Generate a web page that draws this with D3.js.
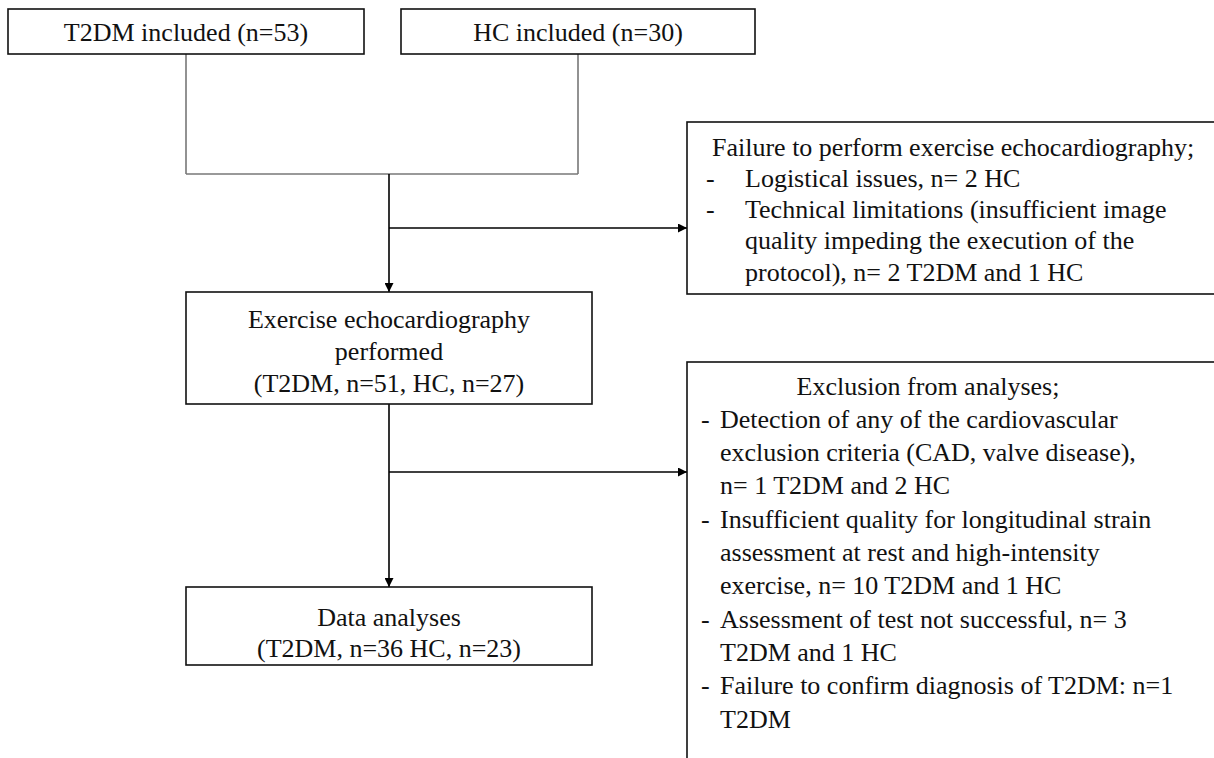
<!DOCTYPE html>
<html>
<head>
<meta charset="utf-8">
<script src="https://cdn.jsdelivr.net/npm/d3@7"></script>
<style>
  html, body { margin: 0; padding: 0; background: #fff; }
  svg { display: block; }
</style>
</head>
<body>
<svg id="chart" width="1214" height="758"></svg>
<script>
// flow counts
var topLabels = ["T2DM included (n=53)", "HC included (n=30)"];
var stageLabels = [
  ["Exercise echocardiography", "performed", "(T2DM, n=51, HC, n=27)"],
  ["Data analyses", "(T2DM, n=36 HC, n=23)"]
];
var excl1Title = "Failure to perform exercise echocardiography;";
var excl1Items = [
  ["Logistical issues, n= 2 HC"],
  ["Technical limitations (insufficient image", "quality impeding the execution of the", "protocol), n= 2 T2DM and 1 HC"]
];
var excl2Title = "Exclusion from analyses;";
var excl2Items = [
  ["Detection of any of the cardiovascular", "exclusion criteria (CAD, valve disease),", "n= 1 T2DM and 2 HC"],
  ["Insufficient quality for longitudinal strain", "assessment at rest and high-intensity", "exercise, n= 10 T2DM and 1 HC"],
  ["Assessment of test not successful, n= 3", "T2DM and 1 HC"],
  ["Failure to confirm diagnosis of T2DM: n=1", "T2DM"]
];

// page layout (pixels)
var fontSize = 26;
var spineX = 389;
var topBox = [{x: 8, w: 356}, {x: 401, w: 354}], topY = 9, topH = 45, joinY = 174;
var stageBox = [{y: 292, h: 112, pad: 27, lh: 32}, {y: 587, h: 78, pad: 30, lh: 31}], stageX = 186, stageW = 406;
var sideX = 687, sideW = 560;
var side1 = {y: 122, h: 172, arrowY: 228, first: 147, lh: 31.3, dashX: 706, textX: 745, titleX: 712};
var side2 = {y: 362, h: 500, arrowY: 472, first: 386, lh: 33.3, dashX: 701, textX: 720, centreX: 928};

var svg = d3.select("#chart");

svg.append("defs").append("marker")
    .attr("id", "head")
    .attr("viewBox", "0 0 10 10")
    .attr("refX", 10).attr("refY", 5)
    .attr("markerWidth", 11).attr("markerHeight", 9)
    .attr("markerUnits", "userSpaceOnUse")
    .attr("orient", "auto")
  .append("path")
    .attr("d", "M0,0L10,5L0,10Z")
    .attr("fill", "#000");

function box(x, y, w, h) {
  svg.append("rect")
      .attr("x", x).attr("y", y)
      .attr("width", w).attr("height", h)
      .attr("fill", "#fff")
      .attr("stroke", "#111")
      .attr("stroke-width", 1.6);
}

function line(pts, color, arrow) {
  var l = svg.append("path")
      .attr("d", d3.line()(pts))
      .attr("fill", "none")
      .attr("stroke", color)
      .attr("stroke-width", 1.6);
  if (arrow) l.attr("marker-end", "url(#head)");
}

function label(g, x, y, t, anchor) {
  return g.append("text")
      .attr("x", x).attr("y", y)
      .attr("text-anchor", anchor || "start")
      .attr("dominant-baseline", "central")
      .attr("font-family", "Liberation Serif")
      .attr("font-size", fontSize)
      .attr("fill", "#111")
      .text(t);
}

// connectors first, boxes on top
topBox.forEach(function(b) {
  line([[b.x + b.w / 2, topY + topH], [b.x + b.w / 2, joinY]], "#777");
});
line([[topBox[0].x + topBox[0].w / 2, joinY], [topBox[1].x + topBox[1].w / 2, joinY]], "#777");
line([[spineX, joinY], [spineX, stageBox[0].y]], "#000", true);
line([[spineX, stageBox[0].y + stageBox[0].h], [spineX, stageBox[1].y]], "#000", true);
line([[spineX, side1.arrowY], [sideX, side1.arrowY]], "#000", true);
line([[spineX, side2.arrowY], [sideX, side2.arrowY]], "#000", true);

// top boxes
topLabels.forEach(function(t, i) {
  var b = topBox[i];
  box(b.x, topY, b.w, topH);
  label(svg, b.x + b.w / 2, topY + topH / 2 + 1, t, "middle");
});

// main stages
stageLabels.forEach(function(lines, i) {
  var b = stageBox[i];
  box(stageX, b.y, stageW, b.h);
  var g = svg.append("g");
  lines.forEach(function(t, j) {
    label(g, stageX + stageW / 2, b.y + b.pad + j * b.lh, t, "middle");
  });
});

// side boxes with dash lists
function sideBox(s, title, items) {
  box(sideX, s.y, sideW, s.h);
  var g = svg.append("g");
  if (s.centreX) label(g, s.centreX, s.first, title, "middle");
  else label(g, s.titleX, s.first, title);
  var row = 1;
  items.forEach(function(item) {
    item.forEach(function(t, k) {
      var y = s.first + row * s.lh;
      if (k === 0) label(g, s.dashX, y, "-");
      label(g, s.textX, y, t);
      row++;
    });
  });
}

sideBox(side1, excl1Title, excl1Items);
sideBox(side2, excl2Title, excl2Items);
</script>
</body>
</html>
